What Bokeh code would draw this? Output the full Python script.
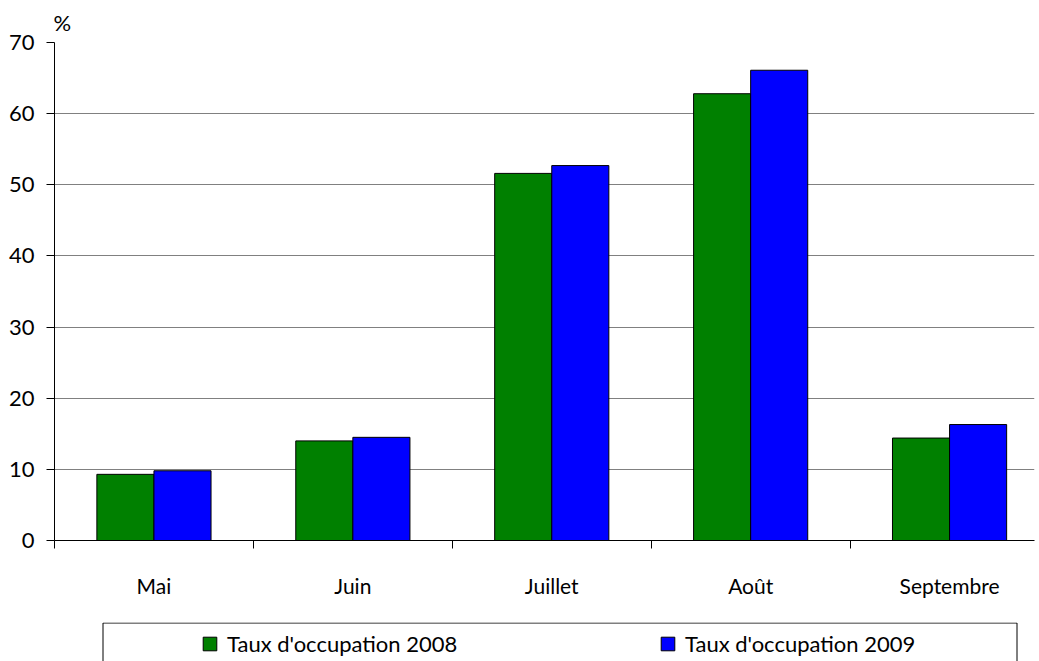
from bokeh.plotting import figure
from bokeh.models import Range1d, FixedTicker, Legend, LegendItem, ColumnDataSource, BoxAnnotation
from bokeh.layouts import column
from bokeh.transform import dodge
from bokeh.embed import file_html
from bokeh.resources import INLINE

months = ["Mai", "Juin", "Juillet", "Août", "Septembre"]
taux_2008 = [9.3, 14.0, 51.6, 62.8, 14.4]
taux_2009 = [9.8, 14.5, 52.7, 66.1, 16.3]
series_names = ["Taux d'occupation 2008", "Taux d'occupation 2009"]
y_ticks = [0, 10, 20, 30, 40, 50, 60, 70]

FONT = "Lato"
GREEN = "#008000"
BLUE = "#0000FF"

centers = [i + 0.5 for i in range(len(months))]
source = ColumnDataSource(data=dict(x=centers, a=taux_2008, b=taux_2009))

p = figure(width=1039, height=622, output_backend="svg", toolbar_location=None,
           x_range=Range1d(0, 4.927), y_range=Range1d(0, 70),
           min_border_left=54, min_border_right=5, min_border_top=41, min_border_bottom=82)

bw = 0.287
p.vbar(x=dodge("x", -bw / 2, range=p.x_range), top="a", width=bw, source=source,
       fill_color=GREEN, line_color="black", line_width=1)
p.vbar(x=dodge("x", bw / 2, range=p.x_range), top="b", width=bw, source=source,
       fill_color=BLUE, line_color="black", line_width=1)

p.outline_line_color = None
p.xgrid.visible = False
p.ygrid.grid_line_color = "#808080"
p.ygrid.grid_line_width = 1
p.ygrid.ticker = FixedTicker(ticks=y_ticks)

xa = p.xaxis[0]
xa.ticker = FixedTicker(ticks=centers, minor_ticks=list(range(len(months) + 1)))
xa.major_label_overrides = {c: m for c, m in zip(centers, months)}
xa.major_tick_line_color = None
xa.major_tick_out = 0
xa.major_tick_in = 0
xa.minor_tick_line_color = "black"
xa.minor_tick_out = 8
xa.minor_tick_in = 0
xa.axis_line_color = "black"
xa.major_label_standoff = 24
xa.major_label_text_font = FONT
xa.major_label_text_font_size = "21px"
xa.major_label_text_color = "black"

ya = p.yaxis[0]
ya.ticker = FixedTicker(ticks=y_ticks)
ya.major_tick_out = 8
ya.major_tick_in = 0
ya.minor_tick_line_color = None
ya.major_tick_line_color = "black"
ya.axis_line_color = "black"
ya.major_label_standoff = 12
ya.major_label_text_font = FONT
ya.major_label_text_font_size = "22px"
ya.major_label_text_color = "black"

p.title.text = "%"
p.title.align = "left"
p.title.text_font = FONT
p.title.text_font_size = "22px"
p.title.text_font_style = "normal"
p.title.text_color = "black"
p.title.standoff = 13
p.title.offset = -1

# Legend strip: same side borders as the main plot, ranges in pixels of the strip
p2 = figure(width=1039, height=39, output_backend="svg", toolbar_location=None,
            x_range=Range1d(54, 1034), y_range=Range1d(0, 39),
            x_axis_type=None, y_axis_type=None,
            min_border_left=54, min_border_right=5, min_border_top=0, min_border_bottom=0)
p2.grid.visible = False
p2.outline_line_color = None
p2.add_layout(BoxAnnotation(left=102.5, right=1016.5, bottom=-10, top=38.5,
                            fill_alpha=0, line_color="black", line_width=1, line_alpha=1))
# swatch-only renderers (hidden; they only provide the legend swatches)
r1 = p2.vbar(x="x", top="a", width=bw, source=source, fill_color=GREEN, line_color="black")
r2 = p2.vbar(x="x", top="b", width=bw, source=source, fill_color=BLUE, line_color="black")
r1.visible = False
r2.visible = False
leg = Legend(items=[LegendItem(label=series_names[0], renderers=[r1]),
                    LegendItem(label=series_names[1], renderers=[r2])],
             location=(147, 4), orientation="horizontal", click_policy="none",
             border_line_alpha=0, background_fill_alpha=0,
             padding=0, margin=0, spacing=0,
             glyph_width=17, glyph_height=17, label_standoff=9, label_width=432,
             label_text_font=FONT, label_text_font_size="22px", label_text_color="black")
p2.add_layout(leg)

layout = column(p, p2, spacing=0)
open("out.html", "w").write(file_html(layout, INLINE))
